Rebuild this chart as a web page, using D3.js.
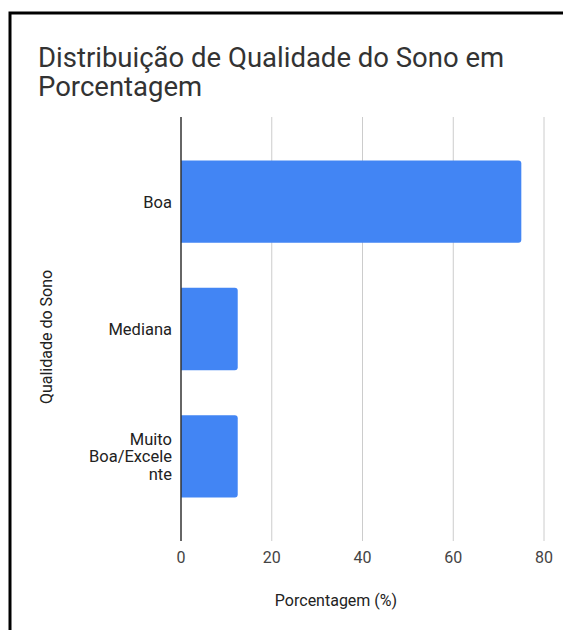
<!DOCTYPE html>
<html><head><meta charset="utf-8">
<script src="https://cdn.jsdelivr.net/npm/d3@7"></script>
<style>body{margin:0;background:#fff}svg{display:block}</style>
</head><body>
<svg id="c" width="563" height="630"></svg>
<script>
const categories = ["Boa", "Mediana", "Muito Boa/Excelente"];
const categoryLines = [["Boa"], ["Mediana"], ["Muito", "Boa/Excele", "nte"]];
const values = [75, 12.5, 12.5];
const xTicks = [0, 20, 40, 60, 80];
const titleLines = ["Distribuição de Qualidade do Sono em", "Porcentagem"];
const xTitle = "Porcentagem (%)";
const yTitle = "Qualidade do Sono";

const svg = d3.select("#c");
const font = "Roboto, 'Noto Sans', sans-serif";
// frame
svg.append("rect").attr("x", 10).attr("y", 13).attr("width", 600).attr("height", 700)
  .attr("fill", "#fff").attr("stroke", "#000").attr("stroke-width", 3);

const plotTop = 117, plotBottom = 541;
const x = d3.scaleLinear().domain([0, 80]).range([181, 544]);
const y = d3.scaleBand().domain(categories).range([plotTop, plotBottom]).paddingInner(0.354).paddingOuter(0.342);

// title
svg.append("g").attr("font-family", font).attr("font-size", 27.5).attr("fill", "#333")
  .selectAll("text").data(titleLines).join("text")
  .attr("x", 38).attr("y", (d, i) => 67 + i * 29).text(d => d);

// gridlines
svg.append("g").selectAll("line").data(xTicks.filter(d => d !== 0)).join("line")
  .attr("x1", d => x(d)).attr("x2", d => x(d)).attr("y1", plotTop).attr("y2", plotBottom)
  .attr("stroke", "#cccccc").attr("stroke-width", 1);

// bars with rounded right corners
const r = 3;
svg.append("g").selectAll("path").data(categories).join("path")
  .attr("fill", "#4285f4")
  .attr("d", (d, i) => {
    const x0 = x(0), x1 = x(values[i]), y0 = y(d), h = y.bandwidth();
    return `M${x0},${y0}H${x1 - r}Q${x1},${y0} ${x1},${y0 + r}V${y0 + h - r}Q${x1},${y0 + h} ${x1 - r},${y0 + h}H${x0}Z`;
  });

// zero axis line
svg.append("line").attr("x1", x(0)).attr("x2", x(0)).attr("y1", plotTop).attr("y2", plotBottom)
  .attr("stroke", "#333").attr("stroke-width", 1.5);

// x tick labels
svg.append("g").selectAll("text").data(xTicks).join("text")
  .attr("x", d => x(d)).attr("y", 563).attr("text-anchor", "middle")
  .attr("font-family", font).attr("font-size", 16).attr("fill", "#444").text(d => d);

// category labels
svg.append("g").selectAll("text").data(categories).join("text")
  .attr("text-anchor", "end").attr("font-family", font).attr("font-size", 16.5).attr("fill", "#222")
  .each(function(d, i) {
    const lines = categoryLines[i];
    const cy = y(d) + y.bandwidth() / 2;
    const lh = 17.5;
    d3.select(this).selectAll("tspan").data(lines).join("tspan")
      .attr("x", 172)
      .attr("y", (l, j) => cy + 6 + (j - (lines.length - 1) / 2) * lh)
      .text(l => l);
  });

// axis titles
svg.append("text").attr("x", 336).attr("y", 606).attr("text-anchor", "middle")
  .attr("font-family", font).attr("font-size", 16).attr("fill", "#222").text(xTitle);
svg.append("text").attr("transform", `translate(52,337) rotate(-90)`)
  .attr("text-anchor", "middle").attr("font-family", font).attr("font-size", 16).attr("fill", "#222").text(yTitle);
</script>
</body></html>
